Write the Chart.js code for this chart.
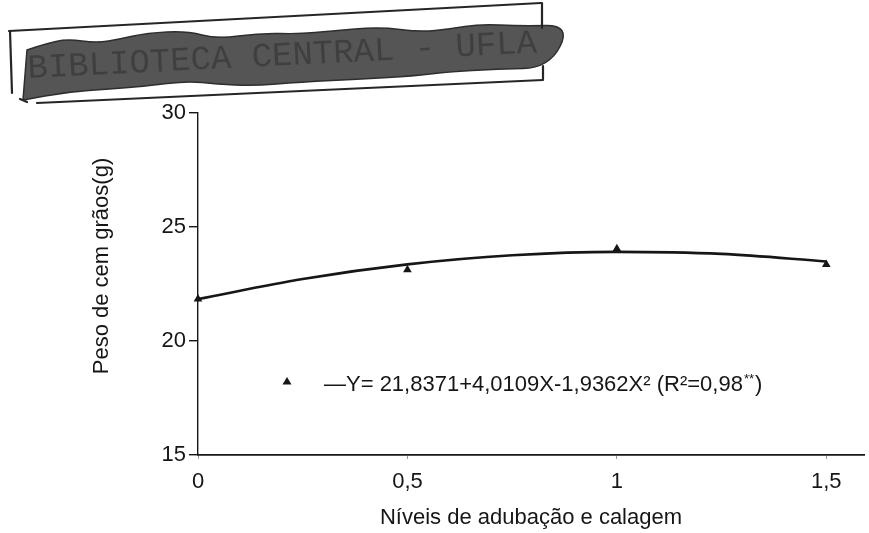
<!DOCTYPE html>
<html>
<head>
<meta charset="utf-8">
<script src="https://cdn.jsdelivr.net/npm/chart.js@4.4.1/dist/chart.umd.min.js"></script>
<style>
  html, body { margin: 0; padding: 0; background: #ffffff; }
  #wrap { width: 869px; height: 533px; }
</style>
</head>
<body>
<div id="wrap"><canvas id="c" width="869" height="533"></canvas></div>
<script>
// Observed means per fertilisation/liming level
const levels = [0, 0.5, 1, 1.5];
const weights = [21.84, 23.12, 24.05, 23.35];

// Fitted quadratic response
const curveX = [0, 0.25, 0.5, 0.75, 1, 1.25, 1.5];
const curveY = [21.84, 22.72, 23.36, 23.76, 23.91, 23.82, 23.49];

// Axis ticks and texts
const xTicks = [0, 0.5, 1, 1.5];
const xTickLabels = ['0', '0,5', '1', '1,5'];
const yTicks = [15, 20, 25, 30];
const xTitle = 'Níveis de adubação e calagem';
const yTitle = 'Peso de cem grãos(g)';
const equationText = '\u2014Y= 21,8371+4,0109X-1,9362X\u00B2 (R\u00B2=0,98';
const equationSup = '**';
const equationClose = ')';
const stampText = 'BIBLIOTECA CENTRAL - UFLA';

const FONT = '"Liberation Sans", Arial, sans-serif';
const SIZE = 22;
const INK = '#161616';

// Library stamp across the top of the page
const stampPlugin = {
  id: 'stamp',
  beforeDraw(chart) {
    const ctx = chart.ctx;
    ctx.save();
    const top = [[27,50],[45,44],[67,39],[97,43],[120,39],[147,33],[187,31],[217,39],[260,33],[300,34],[330,31],[380,27],[420,32],[450,29],[480,24],[520,26],[571,25]];
    const bottom = [[549,68],[497,69],[447,72],[413,76],[363,79],[300,82],[253,86],[217,84],[187,81],[147,86],[110,89],[67,92],[23,100]];
    const pts = top.concat(bottom);
    ctx.beginPath();
    ctx.moveTo(pts[0][0], pts[0][1]);
    for (let i = 1; i < pts.length; i++) {
      const p = pts[i - 1], q = pts[i];
      ctx.quadraticCurveTo(p[0], p[1], (p[0] + q[0]) / 2, (p[1] + q[1]) / 2);
    }
    ctx.lineTo(pts[pts.length - 1][0], pts[pts.length - 1][1]);
    ctx.closePath();
    ctx.fillStyle = '#555555';
    ctx.fill();
    ctx.lineWidth = 1.5;
    ctx.strokeStyle = '#2e2e2e';
    ctx.stroke();
    ctx.clip();
    ctx.translate(28, 78);
    ctx.rotate(-0.05);
    ctx.font = '34px "Liberation Mono", "Courier New", monospace';
    ctx.fillStyle = 'rgba(30,30,30,0.38)';
    ctx.textBaseline = 'alphabetic';
    ctx.fillText(stampText, 0, 0);
    ctx.restore();

    // frame around the stamp
    ctx.save();
    ctx.strokeStyle = '#262626';
    ctx.lineWidth = 2.2;
    ctx.lineCap = 'round';
    const seg = (a, b, c, d) => { ctx.beginPath(); ctx.moveTo(a, b); ctx.lineTo(c, d); ctx.stroke(); };
    seg(9, 31, 541, 3);
    seg(10, 31, 12, 93);
    seg(37, 103, 543, 80);
    seg(542, 3, 542, 28);
    seg(543, 66, 543, 79);
    seg(20, 99, 27, 102);
    ctx.restore();
  }
};

// Legend drawn inside the plot: triangle marker plus the regression equation
const legendPlugin = {
  id: 'eqLegend',
  afterDatasetsDraw(chart) {
    const ctx = chart.ctx;
    const a = chart.chartArea;
    const mx = a.left + 89, my = a.top + 268;
    ctx.save();
    ctx.fillStyle = INK;
    ctx.beginPath();
    ctx.moveTo(mx, my - 4);
    ctx.lineTo(mx + 4.5, my + 3.5);
    ctx.lineTo(mx - 4.5, my + 3.5);
    ctx.closePath();
    ctx.fill();
    ctx.font = SIZE + 'px ' + FONT;
    ctx.textBaseline = 'middle';
    ctx.textAlign = 'left';
    let x = a.left + 126;
    const y = my + 4;
    ctx.fillText(equationText, x, y);
    x += ctx.measureText(equationText).width;
    ctx.font = '13px ' + FONT;
    ctx.fillText(equationSup, x + 1, y - 6);
    x += ctx.measureText(equationSup).width + 2;
    ctx.font = SIZE + 'px ' + FONT;
    ctx.fillText(equationClose, x, y);
    ctx.restore();
  }
};

// Vertical axis title
const yTitlePlugin = {
  id: 'yTitle',
  afterDraw(chart) {
    const ctx = chart.ctx;
    ctx.save();
    ctx.translate(102, 266);
    ctx.rotate(-Math.PI / 2);
    ctx.font = SIZE + 'px ' + FONT;
    ctx.fillStyle = INK;
    ctx.textAlign = 'center';
    ctx.textBaseline = 'middle';
    ctx.fillText(yTitle, 0, 0);
    ctx.restore();
  }
};

new Chart(document.getElementById('c'), {
  type: 'scatter',
  data: {
    datasets: [
      {
        type: 'line',
        label: 'ajuste',
        data: curveX.map((x, i) => ({ x, y: curveY[i] })),
        borderColor: INK,
        borderWidth: 2.6,
        pointRadius: 0,
        cubicInterpolationMode: 'monotone',
        fill: false,
        clip: false
      },
      {
        label: 'observado',
        data: levels.map((x, i) => ({ x, y: weights[i] })),
        pointStyle: 'triangle',
        pointRadius: 5,
        backgroundColor: INK,
        borderColor: INK,
        borderWidth: 0,
        clip: false
      }
    ]
  },
  options: {
    responsive: false,
    animation: false,
    devicePixelRatio: 1,
    layout: { padding: { top: 113, left: 0, right: 0, bottom: 0 } },
    plugins: { legend: { display: false }, tooltip: { enabled: false } },
    scales: {
      x: {
        type: 'linear',
        min: 0,
        max: 1.59,
        afterFit: s => { s.height = 78; },
        afterBuildTicks: s => { s.ticks = xTicks.map(v => ({ value: v })); },
        grid: { display: true, drawOnChartArea: false, drawTicks: true, tickLength: 4, tickColor: '#9a9a9a', lineWidth: 1 },
        border: { display: true, color: INK, width: 1.8 },
        ticks: {
          color: INK,
          font: { family: FONT, size: SIZE },
          padding: 10,
          maxRotation: 0,
          callback: v => { const i = xTicks.indexOf(v); return i >= 0 ? xTickLabels[i] : ''; }
        },
        title: { display: true, text: xTitle, color: INK, font: { family: FONT, size: SIZE }, padding: { top: 0, bottom: 2 } }
      },
      y: {
        type: 'linear',
        min: 15,
        max: 30,
        afterFit: s => { s.width = 198; },
        afterBuildTicks: s => { s.ticks = yTicks.map(v => ({ value: v })); },
        grid: { display: true, drawOnChartArea: false, drawTicks: true, tickLength: 9, tickColor: INK, lineWidth: 1.4 },
        border: { display: true, color: INK, width: 1.4 },
        ticks: { color: INK, font: { family: FONT, size: SIZE }, padding: 3 }
      }
    }
  },
  plugins: [stampPlugin, legendPlugin, yTitlePlugin]
});
</script>
</body>
</html>
